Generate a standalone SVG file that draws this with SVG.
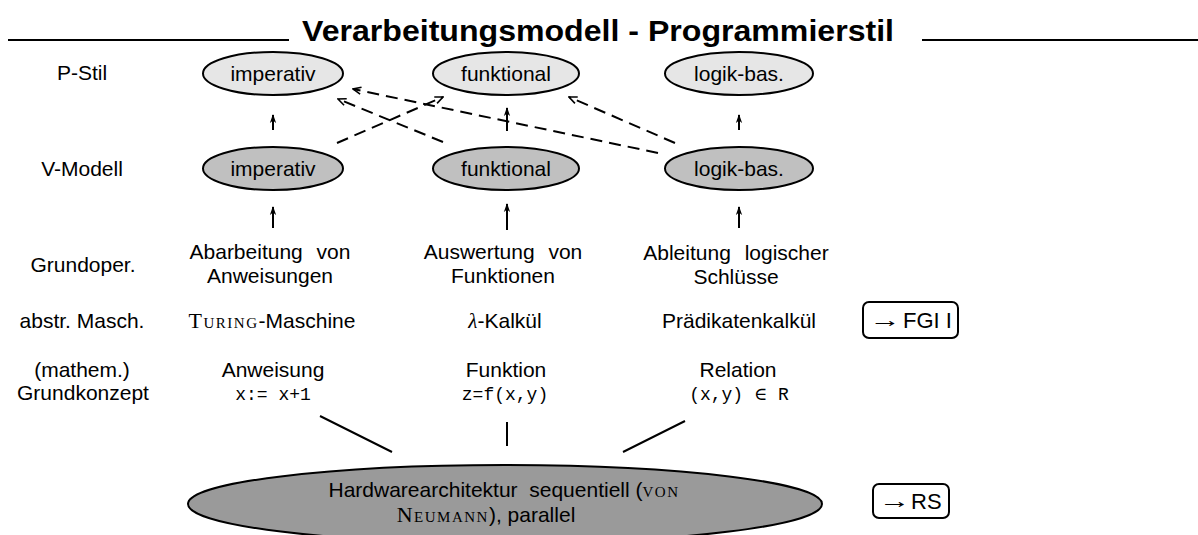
<svg xmlns="http://www.w3.org/2000/svg" width="1198" height="535" viewBox="0 0 1198 535">
<defs>
<style>
text{font-family:"Liberation Sans",Arial,sans-serif;font-size:21px;fill:#000}
.c{text-anchor:middle}
.title{font-size:30px;font-weight:bold}
.mono{font-family:"Liberation Mono","DejaVu Sans Mono",monospace;font-size:18px}
.serif{font-family:"Liberation Serif","DejaVu Serif",serif}
.sc{font-family:"Liberation Serif","DejaVu Serif",serif;font-variant:small-caps;font-size:22px;letter-spacing:1.5px}
.box-t{font-size:22px}
.arr{font-family:"Liberation Serif","DejaVu Serif",serif;font-size:21px}
.pe{fill:#e6e6e6;stroke:#000;stroke-width:2}
.ve{fill:#c0c0c0;stroke:#000;stroke-width:2}
.he{fill:#9a9a9a;stroke:#000;stroke-width:2}
.box{fill:#fff;stroke:#000;stroke-width:2}
.ln{stroke:#000;stroke-width:2;fill:none}
.dash{stroke:#000;stroke-width:2;fill:none;stroke-dasharray:12 7;marker-end:url(#vh)}
.up{stroke:#000;stroke-width:2;fill:none;marker-end:url(#fh)}
</style>
<marker id="vh" viewBox="0 0 10 10" refX="9" refY="5" markerWidth="10" markerHeight="10" orient="auto" markerUnits="userSpaceOnUse">
<path d="M1,1.5 L9,5 L1,8.5" fill="none" stroke="#000" stroke-width="1.6"/>
</marker>
<marker id="fh" viewBox="0 0 10 10" refX="9" refY="5" markerWidth="9" markerHeight="9" orient="auto" markerUnits="userSpaceOnUse">
<path d="M0,1.5 L10,5 L0,8.5 L3,5 z" fill="#000"/>
</marker>
</defs>

<g id="title">
<line x1="8" y1="40" x2="289" y2="40" class="ln"/>
<text x="598" y="41" class="c title" textLength="592" lengthAdjust="spacingAndGlyphs">Verarbeitungsmodell - Programmierstil</text>
<line x1="922" y1="40" x2="1198" y2="40" class="ln"/>
</g>

<g id="row-labels">
<text x="82" y="80" class="c">P-Stil</text>
<text x="82" y="176" class="c">V-Modell</text>
<text x="83" y="272" class="c">Grundoper.</text>
<text x="82" y="328" class="c">abstr. Masch.</text>
<text x="82" y="377" class="c">(mathem.)</text>
<text x="83" y="400" class="c">Grundkonzept</text>
</g>

<g id="p-imperativ"><ellipse cx="273" cy="73.5" rx="70" ry="21.5" class="pe"/><text x="273" y="80.5" class="c">imperativ</text></g>
<g id="p-funktional"><ellipse cx="506" cy="73.5" rx="73" ry="21.5" class="pe"/><text x="506" y="80.5" class="c">funktional</text></g>
<g id="p-logik"><ellipse cx="739" cy="73.5" rx="74" ry="21.5" class="pe"/><text x="739" y="80.5" class="c">logik-bas.</text></g>

<g id="v-imperativ"><ellipse cx="273" cy="168.5" rx="70" ry="21.5" class="ve"/><text x="273" y="175.5" class="c">imperativ</text></g>
<g id="v-funktional"><ellipse cx="506" cy="168.5" rx="73" ry="21.5" class="ve"/><text x="506" y="175.5" class="c">funktional</text></g>
<g id="v-logik"><ellipse cx="739" cy="168.5" rx="74" ry="21.5" class="ve"/><text x="739" y="175.5" class="c">logik-bas.</text></g>

<g id="col-imperativ">
<text x="270" y="259" class="c" word-spacing="8">Abarbeitung von</text>
<text x="270" y="283" class="c">Anweisungen</text>
<text x="272" y="328" class="c"><tspan class="sc">Turing</tspan>-Maschine</text>
<text x="273" y="377" class="c">Anweisung</text>
<text x="273" y="400" class="c mono" xml:space="preserve">x:= x+1</text>
</g>

<g id="col-funktional">
<text x="503" y="259" class="c" word-spacing="8">Auswertung von</text>
<text x="503" y="283" class="c">Funktionen</text>
<text x="505" y="328" class="c"><tspan class="serif" font-style="italic">λ</tspan>-Kalkül</text>
<text x="506" y="377" class="c">Funktion</text>
<text x="505" y="400" class="c mono">z=f(x,y)</text>
</g>

<g id="col-logik">
<text x="736" y="260" class="c" word-spacing="8">Ableitung logischer</text>
<text x="736" y="284" class="c">Schlüsse</text>
<text x="739" y="328" class="c">Prädikatenkalkül</text>
<text x="738" y="377" class="c">Relation</text>
<text x="739" y="400" class="c mono" xml:space="preserve">(x,y) <tspan class="serif">∈</tspan> R</text>
</g>

<g id="ref-fgi">
<rect x="863" y="302" width="95" height="36" rx="6" class="box"/>
<text class="arr" transform="translate(869.5,327) scale(1.5,1)">→</text>
<text x="903" y="328" class="box-t">FGI I</text>
</g>

<g id="hardware">
<ellipse cx="505" cy="504" rx="317" ry="39" class="he"/>
<text x="504" y="497" class="c" xml:space="preserve">Hardwarearchitektur  sequentiell (<tspan class="sc">von</tspan></text>
<text x="486" y="522" class="c"><tspan class="sc">Neumann</tspan>), parallel</text>
</g>

<g id="ref-rs">
<rect x="873" y="484" width="76" height="34" rx="6" class="box"/>
<text class="arr" transform="translate(879,508) scale(1.5,1)">→</text>
<text x="911" y="509" class="box-t">RS</text>
</g>

<g id="connectors">
<line x1="273" y1="130" x2="273" y2="115" class="up"/>
<line x1="507" y1="131" x2="507" y2="108" class="up"/>
<line x1="739" y1="130" x2="739" y2="115" class="up"/>
<line x1="273" y1="228" x2="273" y2="207" class="up"/>
<line x1="507" y1="230" x2="507" y2="204" class="up"/>
<line x1="739" y1="228" x2="739" y2="207" class="up"/>
<line x1="337" y1="143" x2="443" y2="97" class="dash"/>
<line x1="443" y1="142" x2="338" y2="99" class="dash"/>
<line x1="658" y1="153" x2="353" y2="89" class="dash"/>
<line x1="675" y1="143" x2="569" y2="97" class="dash"/>
<line x1="320" y1="416" x2="392" y2="452" class="ln"/>
<line x1="507" y1="422" x2="507" y2="446" class="ln"/>
<line x1="685" y1="421" x2="623" y2="452" class="ln"/>
</g>
</svg>
